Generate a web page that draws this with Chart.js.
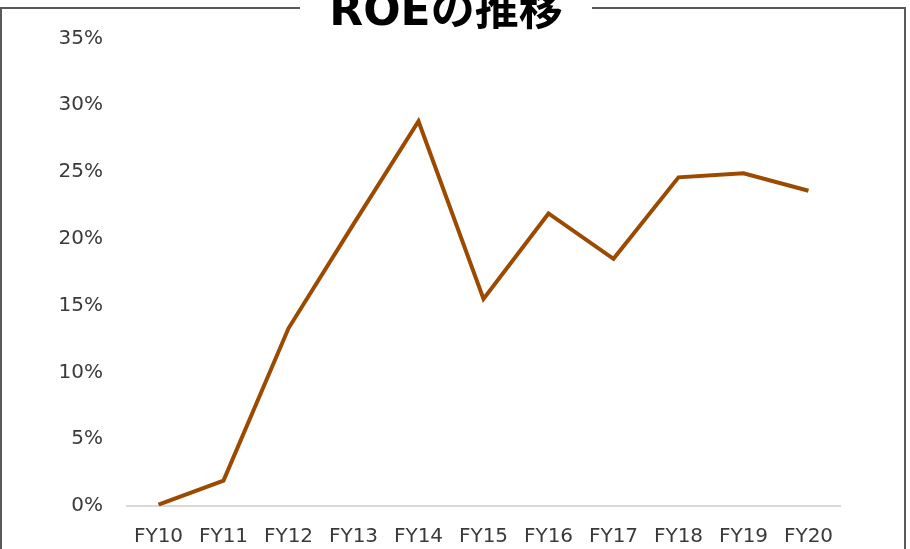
<!DOCTYPE html>
<html lang="ja">
<head>
<meta charset="utf-8">
<title>ROEの推移</title>
<script src="https://cdn.jsdelivr.net/npm/chart.js@4/dist/chart.umd.min.js"></script>
<style>
  body{margin:0;background:#fff;}
  #wrap{position:relative;width:910px;height:549px;overflow:hidden;}
</style>
</head>
<body>
<div id="wrap"><canvas id="myChart" width="910" height="549"></canvas></div>
<script>
// データ
const fiscalYears = ['FY10','FY11','FY12','FY13','FY14','FY15','FY16','FY17','FY18','FY19','FY20']
const roeValues = [0.1, 1.9, 13.3, 21.1, 28.8, 15.5, 21.9, 18.5, 24.6, 24.9, 23.6]
const yMin = 0
const yMax = 35
const yStep = 5

const chartTitle = 'ROEの推移'
const lineColor = '#9C4A00'
const frameColor = '#595959'

// 枠線（タイトル部分は切れている）
const framePlugin = {
  id: 'frame',
  beforeDraw(chart){
    const ctx = chart.ctx
    ctx.save()
    ctx.strokeStyle = frameColor
    ctx.lineWidth = 2
    ctx.beginPath()
    ctx.moveTo(1, 549)
    ctx.lineTo(1, 8)
    ctx.lineTo(300, 8)
    ctx.moveTo(592, 8)
    ctx.lineTo(905, 8)
    ctx.lineTo(905, 549)
    ctx.stroke()
    ctx.restore()
  }
}

const create_graph = (el) => {
  return new Chart(el, {
    type: 'line',
    data: {
      labels: fiscalYears,
      datasets: [{
        label: 'ROE',
        data: roeValues,
        borderColor: lineColor,
        backgroundColor: lineColor,
        borderWidth: 4,
        pointRadius: 0,
        tension: 0,
        fill: false
      }]
    },
    options: {
      responsive: false,
      animation: false,
      layout: { padding: { top: 0, left: 0, right: 18, bottom: 0 } },
      plugins: {
        legend: { display: false },
        tooltip: { enabled: false },
        title: {
          display: true,
          text: chartTitle,
          color: '#000',
          font: { family: '"DejaVu Sans", "Noto Sans CJK JP", sans-serif', size: 44, weight: 'bold', lineHeight: 0.6 },
          padding: { top: 0, bottom: 12 }
        }
      },
      scales: {
        x: {
          offset: true,
          afterFit: (scale) => { scale.height = 43 },
          grid: { display: false, drawTicks: false },
          border: { display: false },
          ticks: { color: '#3a3a3a', padding: 19, font: { family: '"DejaVu Sans", sans-serif', size: 20 } }
        },
        y: {
          min: yMin,
          max: yMax,
          afterFit: (scale) => { scale.width = 126 },
          grid: {
            drawTicks: false,
            color: (c) => c.tick && c.tick.value === 0 ? '#d9d9d9' : 'rgba(0,0,0,0)',
            lineWidth: 2
          },
          border: { display: false },
          ticks: {
            stepSize: yStep,
            color: '#3a3a3a',
            padding: 23,
            font: { family: '"DejaVu Sans", sans-serif', size: 20 },
            callback: (v) => v + '%'
          }
        },
        // 右側の余白用（非表示）
        yRight: {
          position: 'right',
          display: true,
          min: yMin,
          max: yMax,
          afterFit: (scale) => { scale.width = 51 },
          grid: { display: false, drawTicks: false },
          border: { display: false },
          ticks: { display: false }
        }
      }
    },
    plugins: [framePlugin]
  })
}

create_graph(document.getElementById('myChart'))
</script>
</body>
</html>
